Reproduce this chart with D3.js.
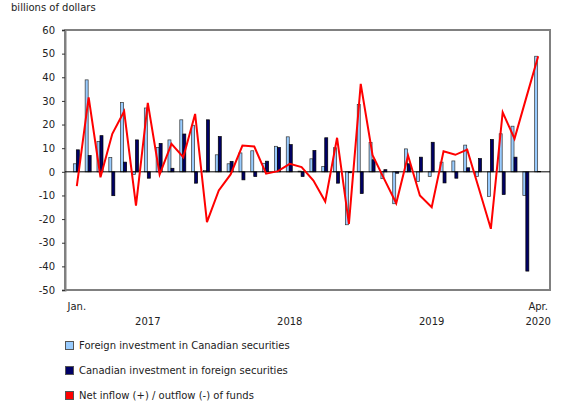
<!DOCTYPE html>
<html>
<head>
<meta charset="utf-8">
<title>Investment flows</title>
<script src="https://d3js.org/d3.v7.min.js"></script>
<style>
    body { margin: 0; background: #fff; }
    text { font-family: "DejaVu Sans", Verdana, sans-serif; font-size: 10px; fill: #222; }
</style>
</head>
<body>
<div id="chart"></div>
<script>
    // Monthly data, Jan. 2017 to Apr. 2020, billions of dollars
    const months = d3.timeMonth.range(new Date(2017, 0, 1), new Date(2020, 4, 1));
    const foreignInCanada = [3.4, 38.9, 12.8, 6.0, 29.3, -1.1, 27.0, 10.3, 13.5, 22.0, 19.7, 0.5,
        7.2, 3.4, 8.0, 8.9, 3.6, 10.8, 14.8, 0.3, 5.5, 2.2, 10.2, -22.4,
        28.5, 12.4, -2.9, -13.5, 9.7, -4.1, -2.0, 4.1, 4.6, 11.3, -2.0, -10.4,
        16.1, 19.3, -10.0, 48.9];
    const canadaInForeign = [9.3, 6.9, 15.3, -10.1, 4.1, 13.5, -2.7, 12.0, 1.5, 16.0, -4.8, 22.0,
        14.9, 4.4, -3.4, -2.0, 4.5, 10.3, 11.5, -2.0, 9.0, 14.4, -4.8, -0.4,
        -9.2, 5.1, 0.9, -0.6, 3.4, 6.2, 12.5, -4.7, -2.7, 1.7, 5.6, 13.7,
        -9.6, 6.2, -42.0, 0.2];
    const netFlow = [-6.1, 31.5, -2.3, 16.1, 25.6, -14.3, 29.2, -1.1, 11.8, 6.2, 24.5, -21.3,
        -7.9, -1.1, 11.1, 10.7, -0.8, 0.3, 3.4, 2.0, -3.7, -12.6, 14.4, -22.0,
        37.2, 7.0, -3.2, -13.3, 6.9, -10.0, -15.0, 8.7, 7.2, 9.4, -7.3, -24.1,
        25.2, 14.0, 31.5, 48.9];
    const yTicks = [-50, -40, -30, -20, -10, 0, 10, 20, 30, 40, 50, 60];
    const seriesNames = ["Foreign investment in Canadian securities",
        "Canadian investment in foreign securities",
        "Net inflow (+) / outflow (-) of funds"];
    const colors = ["#99ccff", "#000066", "#ff0000"];

    const W = 580, H = 410;
    const plotL = 65, plotR = 550, plotT = 30, plotB = 290;

    const svg = d3.select("#chart").append("svg")
        .attr("width", W)
        .attr("height", H);

    const x = d3.scaleBand()
        .domain(d3.range(months.length))
        .range([plotL, plotR])
        .paddingInner(0)
        .paddingOuter(0.5);

    const y = d3.scaleLinear()
        .domain([-50, 60])
        .range([plotB, plotT]);

    const cx = i => x(i) + x.bandwidth() / 2;
    const barW = 3;

    // frame
    svg.append("rect")
        .attr("x", plotL).attr("y", plotT)
        .attr("width", plotR - plotL).attr("height", plotB - plotT)
        .attr("fill", "none")
        .attr("stroke", "#808080")
        .attr("stroke-width", 2);

    // y axis (plain hyphen for negatives, as in the original)
    const yAxis = svg.append("g")
        .attr("transform", "translate(" + plotL + ",0)")
        .call(d3.axisLeft(y).tickValues(yTicks).tickFormat(d => String(d)).tickSize(3).tickPadding(7));
    yAxis.select(".domain").attr("stroke", "#808080").attr("stroke-width", 2);
    yAxis.selectAll(".tick line").attr("stroke", "#333");
    yAxis.selectAll(".tick text")
        .style("font-family", "'DejaVu Sans', Verdana, sans-serif")
        .style("font-size", "10px")
        .attr("fill", "#222");

    svg.append("text")
        .attr("x", 11).attr("y", 11)
        .text("billions of dollars");

    // bars
    svg.append("g").selectAll("rect")
        .data(foreignInCanada)
        .join("rect")
        .attr("x", (d, i) => cx(i) - 3.5)
        .attr("y", d => y(Math.max(0, d)))
        .attr("width", barW)
        .attr("height", d => Math.abs(y(d) - y(0)))
        .attr("fill", colors[0])
        .attr("stroke", "#333")
        .attr("stroke-width", 0.7);

    svg.append("g").selectAll("rect")
        .data(canadaInForeign)
        .join("rect")
        .attr("x", (d, i) => cx(i) - 0.5)
        .attr("y", d => y(Math.max(0, d)))
        .attr("width", barW)
        .attr("height", d => Math.abs(y(d) - y(0)))
        .attr("fill", colors[1])
        .attr("stroke", "#000")
        .attr("stroke-width", 0.7);

    // zero line
    svg.append("line")
        .attr("x1", plotL).attr("x2", plotR)
        .attr("y1", y(0)).attr("y2", y(0))
        .attr("stroke", "#000")
        .attr("stroke-width", 1);

    // net line
    svg.append("path")
        .datum(netFlow)
        .attr("fill", "none")
        .attr("stroke", colors[2])
        .attr("stroke-width", 2)
        .attr("stroke-linejoin", "miter")
        .attr("d", d3.line().x((d, i) => cx(i)).y(d => y(d)));

    // x labels
    const fmtMonth = d3.timeFormat("%b.");
    [0, months.length - 1].forEach(i => {
        svg.append("text")
            .attr("x", cx(i)).attr("y", 310)
            .attr("text-anchor", "middle")
            .text(fmtMonth(months[i]));
    });
    const years = [2017, 2018, 2019, 2020];
    years.forEach(yr => {
        let i = months.findIndex(m => m.getFullYear() === yr && m.getMonth() === 6);
        if (i < 0) i = months.length - 1;
        svg.append("text")
            .attr("x", cx(i)).attr("y", 325)
            .attr("text-anchor", "middle")
            .text(yr);
    });

    // legend
    const legend = svg.append("g");
    seriesNames.forEach((name, k) => {
        const ly = 345.5 + k * 25;
        legend.append("rect")
            .attr("x", 65.5).attr("y", ly - 4)
            .attr("width", 8).attr("height", 8)
            .attr("fill", colors[k])
            .attr("stroke", "#555")
            .attr("stroke-width", 1);
        legend.append("text")
            .attr("x", 79).attr("y", ly + 3.5)
            .text(name);
    });
</script>
</body>
</html>
